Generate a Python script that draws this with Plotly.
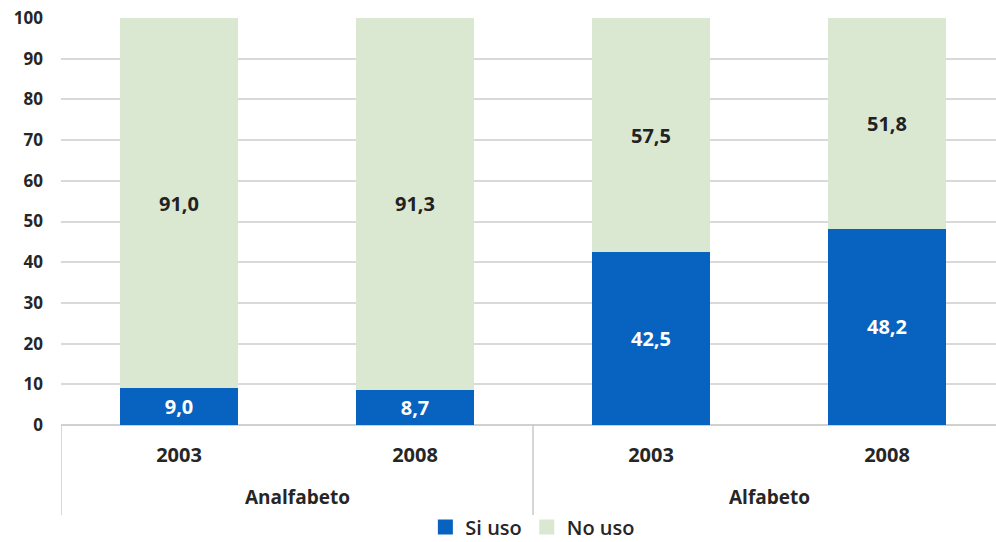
import plotly.graph_objects as go

groups = ["Analfabeto", "Analfabeto", "Alfabeto", "Alfabeto"]
years = ["2003", "2008", "2003", "2008"]
si_uso = [9.0, 8.7, 42.5, 48.2]
no_uso = [91.0, 91.3, 57.5, 51.8]
y_ticks = list(range(0, 101, 10))

xpos = list(range(len(years)))
fmt = lambda v: f"{v:.1f}".replace(".", ",")

FONT = "Open Sans"
BLUE = "#0862BF"
GREEN = "#DAE8D1"
TXT = "#262626"

fig = go.Figure()
fig.add_trace(go.Bar(
    x=xpos, y=si_uso, name="Si uso", marker=dict(color=BLUE, line_width=0),
    text=[fmt(v) for v in si_uso], textposition="inside", insidetextanchor="middle",
    textfont=dict(family=FONT, size=20, color="white", weight="bold"), textangle=0,
    constraintext="none", showlegend=False, legendgroup="si",
))
fig.add_trace(go.Bar(
    x=xpos, y=no_uso, name="No uso", marker=dict(color=GREEN, line_width=0),
    text=[fmt(v) for v in no_uso], textposition="inside", insidetextanchor="middle",
    textfont=dict(family=FONT, size=20, color="#222222", weight="bold"), textangle=0,
    constraintext="none", showlegend=False, legendgroup="no",
))
# legend entries with larger square swatches
for name, col, grp in [("Si uso", BLUE, "si"), ("No uso", GREEN, "no")]:
    fig.add_trace(go.Scatter(x=[None], y=[None], mode="markers", name=name,
                             legendgroup=grp,
                             marker=dict(symbol="square", size=15, color=col)))

x_right = 3.5 - 9 / 236
fig.update_layout(
    barmode="stack", bargap=0.5,
    width=996, height=542,
    margin=dict(l=61, r=0, t=18, b=117, autoexpand=False),
    plot_bgcolor="white", paper_bgcolor="white",
    font=dict(family=FONT, color=TXT),
    showlegend=True, uniformtext=dict(mode=False),
    legend=dict(orientation="h", x=0.535, xanchor="center", xref="container",
                y=(542 - 527) / 542, yanchor="middle", yref="container",
                font=dict(size=20, color=TXT, weight=600), traceorder="normal",
                itemwidth=30, tracegroupgap=0, bgcolor="rgba(0,0,0,0)"),
    xaxis=dict(range=[-0.5, x_right], tickmode="array", tickvals=xpos, ticktext=years,
               showgrid=False, zeroline=False, showline=False, ticks="",
               ticklabelstandoff=16, automargin=False,
               tickfont=dict(size=20, color=TXT, weight="bold")),
    yaxis=dict(range=[0, 100], tickmode="array", tickvals=y_ticks,
               showgrid=True, gridcolor="#D9D9D9", gridwidth=1.5,
               zeroline=True, zerolinecolor="#D0D0D0", zerolinewidth=1.5,
               showline=False, ticks="", ticklabelstandoff=17, automargin=False,
               tickfont=dict(size=17, color=TXT, weight="bold")),
)

# group dividers for the two-level category axis
div_y1 = -(515 - 425) / 407
for xd in [-0.5, 1.5]:
    fig.add_shape(type="line", xref="x", yref="paper", x0=xd, x1=xd, y0=0, y1=div_y1,
                  line=dict(color="#C8C8C8", width=1.5))

# group labels
group_names = []
for g in groups:
    if g not in group_names:
        group_names.append(g)
for gname in group_names:
    idx = [i for i, g in enumerate(groups) if g == gname]
    cx = (idx[0] + idx[-1]) / 2
    fig.add_annotation(x=cx, xref="x", y=-(497 - 425) / 407, yref="paper",
                       text=gname, showarrow=False, yanchor="middle",
                       font=dict(size=19, color=TXT, weight="bold"))

fig.write_html("out.html", config={"displayModeBar": False},
               post_script="document.body.style.margin='0';document.body.style.overflow='hidden';")
